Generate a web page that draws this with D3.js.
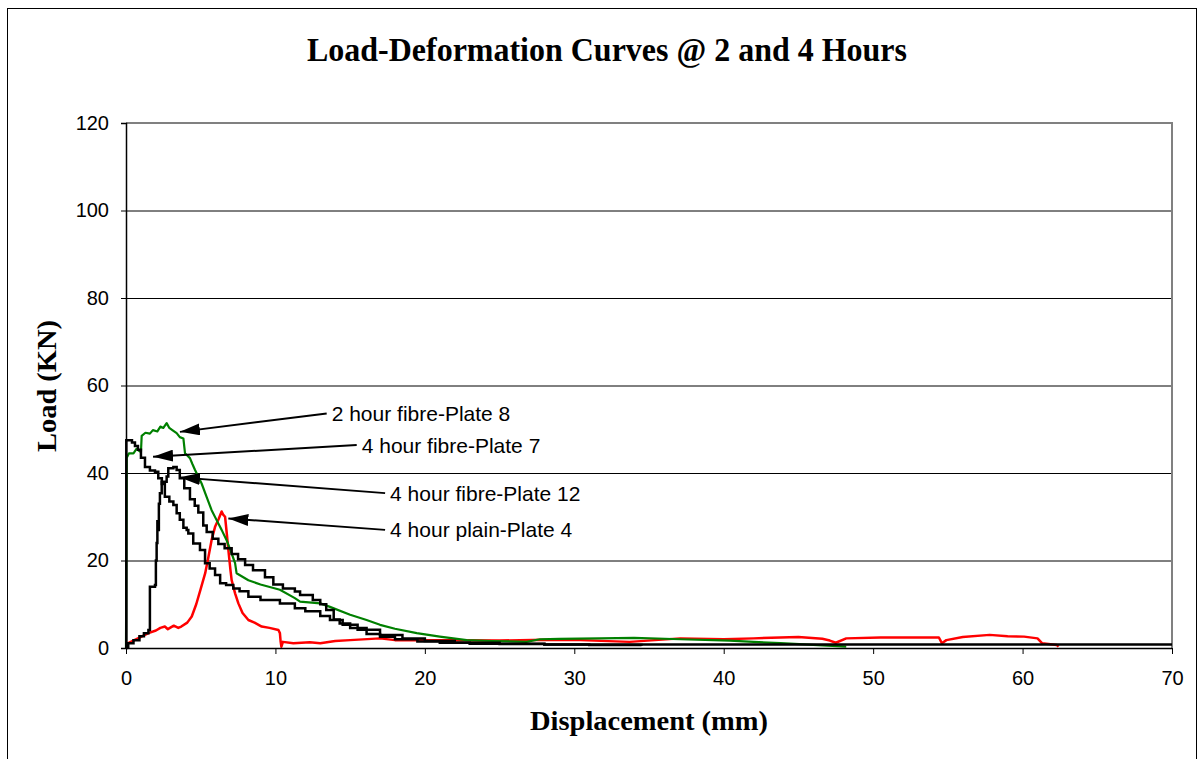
<!DOCTYPE html>
<html><head><meta charset="utf-8">
<script src="https://cdn.jsdelivr.net/npm/d3@7"></script>
<style>
html,body{margin:0;padding:0;background:#fff;}
svg{display:block;}
</style></head>
<body>
<script>
// ---------- data ----------
const chartTitle = "Load-Deformation Curves @ 2 and 4 Hours";
const xTitle = "Displacement (mm)";
const yTitle = "Load (KN)";
const xTicks = [0,10,20,30,40,50,60,70];
const yTicks = [0,20,40,60,80,100,120];

const seriesNames = ["2 hour fibre-Plate 8","4 hour fibre-Plate 7","4 hour fibre-Plate 12","4 hour plain-Plate 4"];
const seriesColors = ["#008000","#000000","#000000","#ff0000"];

const plate8 = [[0,0],[0.05,43.5],[0.2,44.5],[0.5,44.5],[0.7,45.5],[0.9,45],[1.0,44.8],[1.05,48.5],[1.3,49.2],[1.6,49],[1.8,49.8],[2.1,49.5],[2.3,50.6],[2.5,50.3],[2.72,51.4],[2.9,50.3],[3.1,49.8],[3.39,49.1],[3.6,48.2],[3.84,47.9],[3.95,44.5],[4.28,43.4],[4.45,42],[4.62,40.7],[5.06,37.6],[5.4,34.5],[5.73,31.5],[6.1,29],[6.4,27],[6.75,24.5],[7.07,21.6],[7.3,19.4],[7.4,17.1],[8.19,15.5],[9,14.5],[10.3,13.3],[11.3,11.4],[11.65,10.6],[13,10.2],[13.65,9.4],[15,7.6],[16.1,6.4],[17,5.3],[18,4.4],[19.46,3.4],[21,2.6],[22.8,1.8],[24.5,1.6],[26.8,1.4],[27.7,2.0],[29,2.1],[31.7,2.2],[34,2.3],[37.1,2.0],[40.4,1.7],[42,1.4],[43.8,1.1],[46,0.7],[48.2,0.3]];

const plate7 = [[0,0],[0.02,47.5],[0.4,47.0],[0.6,46.2],[0.8,45.3],[1.0,43.5],[1.27,41.4],[1.6,40.6],[1.94,40.3],[2.16,38.8],[2.4,37.5],[2.6,34.6],[2.9,33.5],[3.17,32.7],[3.39,30.8],[3.6,29.3],[3.84,27.5],[4.06,27],[4.17,26.2],[4.5,23.9],[4.95,22.4],[5.29,19.4],[5.6,18.2],[5.96,16.7],[6.3,14.8],[6.7,14.4],[7.18,13.6],[7.6,13.0],[8.19,11.7],[9,11.0],[10.3,10.2],[11.3,9.1],[12,8.4],[13,7.3],[13.65,6.4],[14.5,5.3],[15.5,4.2],[17,3.0],[18.5,2.2],[20,1.6],[22,1.2],[25,1.0],[28,0.8],[31,0.7],[34.5,0.5]];

const plate12 = [[0,0.3],[0.15,1.1],[0.5,1.8],[0.9,2.7],[1.2,3.4],[1.5,4.1],[1.6,14],[1.94,14.4],[2.0,20],[2.05,24],[2.1,29],[2.16,27],[2.2,33],[2.27,35.4],[2.39,38],[2.72,39.2],[2.83,41.1],[3.17,41.4],[3.39,40.7],[3.6,38.8],[3.9,36.5],[4.28,34],[4.6,32.5],[4.84,31],[5.17,28],[5.4,26.5],[5.8,25],[6.18,23.8],[6.6,22.8],[7.07,21.5],[7.5,20.3],[7.97,19],[8.5,17.8],[9.3,16.2],[9.86,14.5],[10.5,13.6],[11.3,12.9],[11.65,12.1],[12.5,11],[13.0,10],[13.4,8.7],[13.9,6.5],[14.3,5.6],[15,4.6],[16.1,3.2],[17,2.6],[18,2.0],[19.5,1.5],[21,1.2],[23,1.0],[25,0.9],[28,0.8],[70,0.8]];

const plate4 = [[0,0.5],[0.15,1.1],[0.8,2.2],[1.5,3.4],[2.0,4.0],[2.3,4.6],[2.6,4.9],[2.8,4.3],[3.2,5.1],[3.5,4.6],[3.7,4.9],[4.1,5.8],[4.4,7.2],[4.7,10],[5.0,13.5],[5.3,17.1],[5.5,20.5],[5.73,24.7],[5.96,27.7],[6.2,29.5],[6.4,31.2],[6.5,30.5],[6.63,30],[6.75,26],[6.85,22.4],[7.0,17.5],[7.07,15.5],[7.3,12.5],[7.52,10.2],[7.8,8],[8.19,6.4],[8.6,5.8],[9.08,4.9],[9.6,4.6],[10.2,4.1],[10.3,3.4],[10.35,1.4],[10.4,0.3],[10.5,1.4],[11.2,1.1],[12.3,1.3],[13,1.1],[14,1.6],[15,1.8],[17,2.2],[18,1.8],[21.7,1.8],[25,1.7],[28,1.9],[30.4,1.8],[33.7,1.4],[37.1,2.2],[40,2.0],[42,2.2],[43.8,2.4],[45,2.5],[46.6,2.1],[47.1,1.7],[47.5,1.2],[48.2,2.2],[50.5,2.4],[54.4,2.4],[54.6,1.1],[54.9,1.8],[56,2.5],[57.8,3.0],[59,2.7],[60.1,2.6],[61,2.2],[61.3,1.1],[62.3,0.7],[62.4,0.3]];

// annotation: [label, tipX, tipY, startX, startY] in data units
const annotations = [
  [seriesNames[0], 3.61, 49.4, 13.43, 53.6],
  [seriesNames[1], 1.81, 43.7, 15.44, 46.4],
  [seriesNames[2], 3.61, 39.0, 17.34, 35.4],
  [seriesNames[3], 6.85, 29.6, 17.34, 27.0]
];

// ---------- drawing ----------
const W = 1204, H = 759;
const svg = d3.select("body").append("svg").attr("width", W).attr("height", H);
svg.append("rect").attr("width", W).attr("height", H).attr("fill", "#fff");
// outer chart border
svg.append("rect").attr("x", 7.5).attr("y", 8.5).attr("width", 1189).attr("height", 800)
  .attr("fill", "none").attr("stroke", "#000").attr("stroke-width", 1);

const x = d3.scaleLinear().domain([0,70]).range([126,1172]);
const y = d3.scaleLinear().domain([0,120]).range([648,123]);

// gridlines
svg.append("g").selectAll("line").data(yTicks.filter(v => v > 0 && v < 120)).join("line")
  .attr("x1", x(0)).attr("x2", x(70)).attr("y1", d => y(d) + 0.5).attr("y2", d => y(d) + 0.5)
  .attr("stroke", "#000").attr("stroke-width", 1);

// plot frame (gray top/right)
svg.append("path")
  .attr("d", `M${x(0)},${y(120)}H${x(70)}V${y(0)}`)
  .attr("fill", "none").attr("stroke", "#808080").attr("stroke-width", 2);

const line = d3.line().x(d => x(d[0])).y(d => y(d[1]));
const stepLine = d3.line().x(d => x(d[0])).y(d => y(d[1])).curve(d3.curveStepAfter);

const g = svg.append("g");
g.append("path").datum(plate4).attr("d", line).attr("fill", "none")
  .attr("stroke", seriesColors[3]).attr("stroke-width", 2.5).attr("stroke-linejoin", "round");
g.append("path").datum(plate8).attr("d", line).attr("fill", "none")
  .attr("stroke", seriesColors[0]).attr("stroke-width", 2.2).attr("stroke-linejoin", "round");
g.append("path").datum(plate12).attr("d", stepLine).attr("fill", "none")
  .attr("stroke", seriesColors[2]).attr("stroke-width", 2.5);
g.append("path").datum(plate7).attr("d", stepLine).attr("fill", "none")
  .attr("stroke", seriesColors[1]).attr("stroke-width", 2.5);

// axes
const yAxis = svg.append("g").attr("transform", `translate(${x(0)},0)`)
  .call(d3.axisLeft(y).tickValues(yTicks).tickFormat(d3.format("d")).tickSize(5).tickPadding(12));
const xAxis = svg.append("g").attr("transform", `translate(0,${y(0)})`)
  .call(d3.axisBottom(x).tickValues(xTicks).tickFormat(d3.format("d")).tickSize(6).tickPadding(17));
[yAxis, xAxis].forEach(a => {
  a.select(".domain").attr("stroke", "#000").attr("stroke-width", 1.5);
  a.selectAll(".tick line").attr("stroke", "#000").attr("stroke-width", 1);
  a.selectAll("text").attr("font-family", "'Liberation Sans', Arial, sans-serif")
    .attr("font-size", 20).attr("fill", "#000");
});
xAxis.select(".domain").attr("d", `M${x(0)},0.5H${x(70)}`);

// annotations
const defs = svg.append("defs");
defs.append("marker").attr("id", "ah").attr("markerUnits", "userSpaceOnUse")
  .attr("viewBox", "0 0 20 12").attr("refX", 20).attr("refY", 6)
  .attr("markerWidth", 20).attr("markerHeight", 12).attr("orient", "auto")
  .append("path").attr("d", "M0,0L20,6L0,12Z").attr("fill", "#000");

const ann = svg.append("g");
annotations.forEach(a => {
  ann.append("line")
    .attr("x1", x(a[3])).attr("y1", y(a[4])).attr("x2", x(a[1])).attr("y2", y(a[2]))
    .attr("stroke", "#000").attr("stroke-width", 2).attr("marker-end", "url(#ah)");
  ann.append("text").attr("x", x(a[3]) + 5).attr("y", y(a[4]))
    .attr("dominant-baseline", "central")
    .attr("font-family", "'Liberation Sans', Arial, sans-serif").attr("font-size", 21)
    .attr("fill", "#000").text(a[0]);
});

// titles
svg.append("text").attr("x", 607).attr("y", 61).attr("text-anchor", "middle")
  .attr("font-family", "'Liberation Serif', 'Times New Roman', serif").attr("font-weight", "bold")
  .attr("font-size", 34).attr("textLength", 600).attr("lengthAdjust", "spacingAndGlyphs")
  .text(chartTitle);
svg.append("text").attr("x", 649).attr("y", 730).attr("text-anchor", "middle")
  .attr("font-family", "'Liberation Serif', 'Times New Roman', serif").attr("font-weight", "bold")
  .attr("font-size", 27).attr("textLength", 238).attr("lengthAdjust", "spacingAndGlyphs")
  .text(xTitle);
svg.append("text").attr("transform", "translate(56,386) rotate(-90)").attr("text-anchor", "middle")
  .attr("font-family", "'Liberation Serif', 'Times New Roman', serif").attr("font-weight", "bold")
  .attr("font-size", 27).attr("textLength", 132).attr("lengthAdjust", "spacingAndGlyphs")
  .text(yTitle);
</script>
</body></html>
